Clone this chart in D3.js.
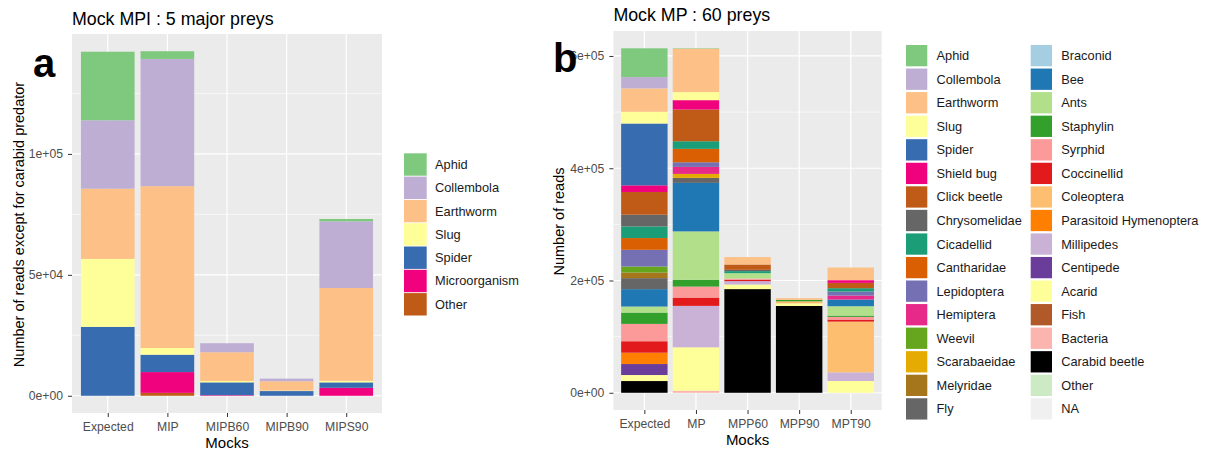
<!DOCTYPE html>
<html>
<head>
<meta charset="utf-8">
<script src="https://cdn.jsdelivr.net/npm/d3@7"></script>
<style>
  body { margin: 0; background: #fff; }
  svg { display: block; font-family: 'Liberation Sans', Arial, sans-serif; }
</style>
</head>
<body>
<svg id="chart" width="1206" height="450"></svg>
<script>
// panel a : mock MPI
const mocksA = ['Expected', 'MIP', 'MIPB60', 'MIPB90', 'MIPS90']
const preysA = ['Aphid', 'Collembola', 'Earthworm', 'Slug', 'Spider', 'Microorganism', 'Other']
const coloursA = ['#7FC97F', '#BEAED4', '#FDC086', '#FFFF99', '#386CB0', '#F0027F', '#BF5B17']
// reads per prey, same order as preysA
const expectedA = [28350, 28300, 29000, 28100, 28500, 0, 0]
const mipA = [3190, 52600, 66900, 2770, 7200, 8590, 1200]
const mipb60A = [0, 3730, 11900, 550, 5300, 250, 0]
const mipb90A = [0, 1100, 3850, 200, 1950, 0, 0]
const mips90A = [970, 27560, 38360, 660, 2240, 3300, 0]
const ticksA = [0, 5e4, 1e5]
const minorA = [2.5e4, 7.5e4, 1.25e5]

// panel b : mock MP
const mocksB = ['Expected', 'MP', 'MPP60', 'MPP90', 'MPT90']
const preysB = ['Aphid', 'Collembola', 'Earthworm', 'Slug', 'Spider', 'Shield bug', 'Click beetle',
  'Chrysomelidae', 'Cicadellid', 'Cantharidae', 'Lepidoptera', 'Hemiptera', 'Weevil', 'Scarabaeidae',
  'Melyridae', 'Fly', 'Braconid', 'Bee', 'Ants', 'Staphylin', 'Syrphid', 'Coccinellid', 'Coleoptera',
  'Parasitoid Hymenoptera', 'Millipedes', 'Centipede', 'Acarid', 'Fish', 'Bacteria', 'Carabid beetle',
  'Other', 'NA']
const coloursB = ['#7FC97F', '#BEAED4', '#FDC086', '#FFFF99', '#386CB0', '#F0027F', '#BF5B17',
  '#666666', '#1B9E77', '#D95F02', '#7570B3', '#E7298A', '#66A61E', '#E6AB02',
  '#A6761D', '#666666', '#A6CEE3', '#1F78B4', '#B2DF8A', '#33A02C', '#FB9A99', '#E31A1C', '#FDBF6F',
  '#FF7F00', '#CAB2D6', '#6A3D9A', '#FFFF99', '#B15928', '#FBB4AE', '#000000',
  '#CCEBC5', '#F0F0F0']
// reads per prey, same order as preysB
const expectedB = [51250, 20200, 41600, 20900, 110200, 11800, 40500, 20900, 20700, 20900, 29800, 0,
  10700, 0, 10000, 19600, 0, 31000, 10700, 20200, 30900, 20400, 0, 20200, 0, 19600, 10700, 0, 0,
  20900, 0, 0]
const mpB = [800, 0, 77400, 14300, 0, 16600, 56600, 0, 13600, 23900, 8200, 12500, 0, 7100, 0, 8900,
  0, 86400, 86300, 12000, 19600, 14800, 0, 0, 73800, 0, 77400, 0, 3600, 0, 0, 0]
const mpp60B = [0, 0, 13200, 0, 0, 0, 9500, 2300, 3600, 0, 0, 0, 0, 0, 0, 0, 0, 0, 9600, 0, 2300,
  2300, 0, 0, 6000, 0, 8200, 0, 0, 184700, 0, 0]
const mpp90B = [0, 0, 3000, 0, 0, 0, 0, 0, 0, 0, 0, 0, 0, 0, 0, 0, 0, 0, 0, 2700, 0, 0, 3600, 0, 0,
  0, 4500, 0, 0, 154800, 0, 0]
const mpt90B = [0, 0, 22500, 0, 0, 4800, 9500, 0, 6000, 0, 7100, 7100, 0, 0, 0, 0, 0, 11900, 16700,
  2300, 4800, 3600, 90400, 0, 15500, 0, 20900, 0, 0, 0, 0, 0]
const ticksB = [0, 2e5, 4e5, 6e5]
const minorB = [1e5, 3e5, 5e5]

const svg = d3.select('#chart')

drawPanel({
  mocks: mocksA,
  preys: preysA,
  colours: coloursA,
  values: [expectedA, mipA, mipb60A, mipb90A, mips90A],
  ticks: ticksA,
  minor: minorA,
  box: { left: 72, right: 382, top: 34, bottom: 413 },
  title: 'Mock MPI : 5 major preys',
  titleY: 25,
  yTitle: 'Number of reads except for carabid predator',
  yTitleX: 24,
  tag: 'a',
  tagX: 33,
  tagY: 77,
  legend: { x: 404, y: 153.3, step: 23.3, w: 22.7, h: 22.4, rows: 7, colGap: 0, textDx: 31 }
})

drawPanel({
  mocks: mocksB,
  preys: preysB,
  colours: coloursB,
  values: [expectedB, mpB, mpp60B, mpp90B, mpt90B],
  ticks: ticksB,
  minor: minorB,
  box: { left: 613.4, right: 881.7, top: 31, bottom: 410 },
  title: 'Mock MP : 60 preys',
  titleY: 21,
  yTitle: 'Number of reads',
  yTitleX: 564,
  tag: 'b',
  tagX: 553,
  tagY: 72,
  legend: { x: 906, y: 45, step: 23.55, w: 21.3, h: 21.3, rows: 16, colGap: 124.7, textDx: 30.5 }
})

function sci (v) {
  if (v === 0) return '0e+00'
  let e = Math.floor(Math.log10(v))
  let m = Math.round(v / Math.pow(10, e))
  return m + 'e+' + String(e).padStart(2, '0')
}

function drawPanel (p) {
  let box = p.box
  let rows = p.mocks.map(function (m, i) {
    let row = { mock: m }
    p.preys.forEach(function (k, j) { row[k] = p.values[i][j] })
    return row
  })
  // first legend entry sits on top of the stack
  let series = d3.stack().keys(p.preys.slice().reverse())(rows)
  let max = d3.max(rows, function (r) { return d3.sum(p.preys, function (k) { return r[k] }) })

  let x = d3.scalePoint()
    .domain(p.mocks)
    .range([box.left, box.right])
    .padding(0.6)
  let bw = x.step() * 0.9
  let y = d3.scaleLinear()
    .domain([-0.05 * max, 1.05 * max])
    .range([box.bottom, box.top])
  let colour = d3.scaleOrdinal().domain(p.preys).range(p.colours)

  let g = svg.append('g')

  g.append('rect')
    .attr('x', box.left)
    .attr('y', box.top)
    .attr('width', box.right - box.left)
    .attr('height', box.bottom - box.top)
    .attr('fill', '#EBEBEB')

  g.selectAll('line.minor')
    .data(p.minor)
    .enter()
    .append('line')
      .attr('class', 'minor')
      .attr('x1', box.left)
      .attr('x2', box.right)
      .attr('y1', function (d) { return y(d) })
      .attr('y2', function (d) { return y(d) })
      .attr('stroke', '#fff')
      .attr('stroke-width', 0.6)

  g.selectAll('line.major')
    .data(p.ticks)
    .enter()
    .append('line')
      .attr('class', 'major')
      .attr('x1', box.left)
      .attr('x2', box.right)
      .attr('y1', function (d) { return y(d) })
      .attr('y2', function (d) { return y(d) })
      .attr('stroke', '#fff')
      .attr('stroke-width', 1.2)

  g.selectAll('line.vgrid')
    .data(p.mocks)
    .enter()
    .append('line')
      .attr('class', 'vgrid')
      .attr('x1', function (d) { return x(d) })
      .attr('x2', function (d) { return x(d) })
      .attr('y1', box.top)
      .attr('y2', box.bottom)
      .attr('stroke', '#fff')
      .attr('stroke-width', 1.2)

  g.selectAll('g.layer')
    .data(series)
    .enter()
    .append('g')
      .attr('class', 'layer')
      .attr('fill', function (s) { return colour(s.key) })
    .selectAll('rect')
    .data(function (s) { return s.filter(function (d) { return d[1] > d[0] }) })
    .enter()
    .append('rect')
      .attr('x', function (d) { return x(d.data.mock) - bw / 2 })
      .attr('y', function (d) { return y(d[1]) })
      .attr('width', bw)
      .attr('height', function (d) { return y(d[0]) - y(d[1]) })

  let yAxis = g.append('g')
    .attr('transform', 'translate(' + box.left + ',0)')
    .call(d3.axisLeft(y).tickValues(p.ticks).tickFormat(sci).tickSize(4).tickPadding(5))
  let xAxis = g.append('g')
    .attr('transform', 'translate(0,' + box.bottom + ')')
    .call(d3.axisBottom(x).tickSize(4).tickPadding(5))
  ;[yAxis, xAxis].forEach(function (a) {
    a.select('.domain').remove()
    a.selectAll('line').attr('stroke', '#333')
    a.selectAll('text')
      .attr('fill', '#4D4D4D')
      .style('font-size', '12.2px')
      .style('font-family', "'Liberation Sans', Arial, sans-serif")
  })

  g.append('text')
    .attr('x', box.left)
    .attr('y', p.titleY)
    .style('font-size', '17.8px')
    .text(p.title)

  g.append('text')
    .attr('x', (box.left + box.right) / 2)
    .attr('y', box.bottom + 35)
    .attr('text-anchor', 'middle')
    .style('font-size', '15px')
    .text('Mocks')

  g.append('text')
    .attr('transform', 'translate(' + p.yTitleX + ',' + ((box.top + box.bottom) / 2 + 1) + ') rotate(-90)')
    .attr('text-anchor', 'middle')
    .style('font-size', '14.5px')
    .text(p.yTitle)

  let lg = p.legend
  let keys = g.selectAll('g.key')
    .data(p.preys)
    .enter()
    .append('g')
      .attr('class', 'key')
      .attr('transform', function (d, i) {
        let col = Math.floor(i / lg.rows)
        let row = i % lg.rows
        return 'translate(' + (lg.x + col * lg.colGap) + ',' + (lg.y + row * lg.step) + ')'
      })
  keys.append('rect')
    .attr('width', lg.w)
    .attr('height', lg.h)
    .attr('fill', function (d) { return colour(d) })
  keys.append('text')
    .attr('x', lg.textDx)
    .attr('y', lg.h / 2)
    .attr('dy', '0.35em')
    .attr('fill', '#1A1A1A')
    .style('font-size', '12.8px')
    .text(function (d) { return d })

  // panel letter, drawn last so it covers the top tick label as in the figure
  g.append('text')
    .attr('x', p.tagX)
    .attr('y', p.tagY)
    .style('font-size', '40px')
    .style('font-weight', 'bold')
    .text(p.tag)
}
</script>
</body>
</html>
